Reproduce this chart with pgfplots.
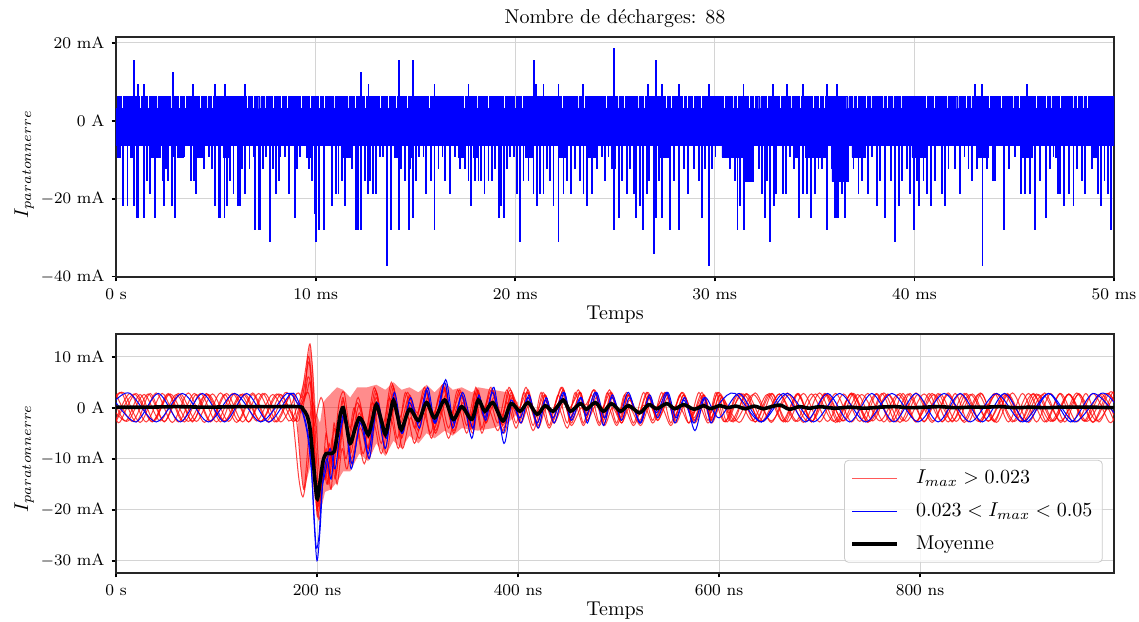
\documentclass[border=0pt]{standalone}
\usepackage{pgfplots}
\pgfplotsset{compat=1.18}
\pgfplotsset{
  myaxis/.style={
    scale only axis,
    grid=major,
    major grid style={draw=black!17, line width=0.5pt},
    tick align=outside, xtick pos=lower, ytick pos=left,
    major tick length=2.2pt,
    tick style={black, line width=0.9pt},
    axis line style={black!85, line width=0.6pt},
    tick label style={font=\fontsize{8.2}{9.5}\selectfont},
    label style={font=\fontsize{10}{12}\selectfont},
    title style={font=\fontsize{10}{12}\selectfont, yshift=-5pt},
    xlabel style={yshift=3.75pt},
  }
}
\begin{document}
\begin{tikzpicture}[x=1pt,y=1pt]
\useasboundingbox (0,0) rectangle (569.5,310.5);
% ================= TOP AXIS =================
\begin{axis}[myaxis,
  at={(58pt,172pt)}, anchor=south west,
  width=499pt, height=120pt,
  xmin=0, xmax=50, ymin=-40.15, ymax=21.54,
  xtick={0,10,20,30,40,50},
  xticklabels={0 s,10 ms,20 ms,30 ms,40 ms,50 ms},
  ytick={-40,-20,0,20},
  yticklabels={$-40$ mA,$-20$ mA,0 A,20 mA},
  xlabel={Temps}, ylabel={$I_{paratonnerre}$},
  ylabel style={at={(axis description cs:-0.092,0.47)}, anchor=center},
  title={Nombre de décharges: 88},
]
% upper edge of the dense band
\addplot[const plot, fill=blue, draw=blue, line width=0.2pt] coordinates {
(0,3.12)(0.07,6.24)(0.27,3.12)(0.37,6.24)(0.83,3.12)(0.93,6.24)(1.17,3.12)(1.27,6.24)
(1.57,3.12)(1.67,6.24)(2.00,3.12)(2.10,6.24)(2.70,3.12)(2.80,6.24)(3.11,3.12)(3.21,6.24)
(3.41,3.12)(3.51,6.24)(4.17,3.12)(4.27,6.24)(4.50,3.12)(4.60,6.24)(4.77,3.12)(4.87,6.24)
(6.54,3.12)(6.64,6.24)(6.84,3.12)(6.94,6.24)(7.15,3.12)(7.25,6.24)(7.41,3.12)(7.51,6.24)
(7.85,3.12)(7.95,6.24)(8.23,3.12)(8.33,6.24)(8.55,3.12)(8.65,6.24)(9.22,3.12)(9.32,6.24)
(9.68,3.12)(9.78,6.24)(10.15,3.12)(10.25,6.24)(10.38,3.12)(10.48,6.24)(10.86,3.12)(10.96,6.24)
(11.57,3.12)(11.67,6.24)(11.94,3.12)(12.04,6.24)(12.44,3.12)(12.54,6.24)(13.21,3.12)(13.31,6.24)
(13.60,3.12)(13.70,6.24)(14.01,3.12)(14.11,6.24)(14.56,3.12)(14.66,6.24)(15.65,3.12)(15.75,6.24)
(17.40,3.12)(17.50,6.24)(18.03,3.12)(18.13,6.24)(18.62,3.12)(18.72,6.24)(19.40,3.12)(19.50,6.24)
(19.95,3.12)(20.05,6.24)(20.31,3.12)(20.41,6.24)(21.37,3.12)(21.47,6.24)(22.30,3.12)(22.40,6.24)
(23.09,3.12)(23.19,6.24)(23.41,3.12)(23.51,6.24)(24.50,3.12)(24.60,6.24)(25.10,3.12)(25.20,6.24)
(25.42,3.12)(25.52,6.24)(26.10,3.12)(26.20,6.24)(26.42,3.12)(26.52,6.24)(27.52,3.12)(27.62,6.24)
(27.76,3.12)(27.86,6.24)(28.36,3.12)(28.46,6.24)(28.59,3.12)(28.69,6.24)(28.86,3.12)(28.96,6.24)
(29.26,3.12)(29.36,6.24)(30.44,3.12)(30.54,6.24)(30.86,3.12)(30.96,6.24)(31.09,3.12)(31.19,6.24)
(31.69,3.12)(31.79,6.24)(31.93,3.12)(32.03,6.24)(32.20,3.12)(32.30,6.24)(32.60,3.12)(32.70,6.24)
(33.23,3.12)(33.33,6.24)(33.53,3.12)(33.63,6.24)(33.76,3.12)(33.86,6.24)(34.23,3.12)(34.33,6.24)
(34.87,3.12)(34.97,6.24)(35.20,3.12)(35.30,6.24)(35.43,3.12)(35.53,6.24)(36.61,3.12)(36.71,6.24)
(36.87,3.12)(36.97,6.24)(37.10,3.12)(37.20,6.24)(37.54,3.12)(37.64,6.24)(37.77,3.12)(37.87,6.24)
(38.37,3.12)(38.47,6.24)(38.61,3.12)(38.71,6.24)(38.87,3.12)(38.97,6.24)(39.27,3.12)(39.37,6.24)
(40.54,3.12)(40.64,6.24)(40.94,3.12)(41.04,6.24)(41.58,3.12)(41.68,6.24)(42.12,3.12)(42.22,6.24)
(42.55,3.12)(42.65,6.24)(42.78,3.12)(42.88,6.24)(43.70,3.12)(43.80,6.24)(44.30,3.12)(44.40,6.24)
(44.88,3.12)(44.98,6.24)(45.20,3.12)(45.30,6.24)(46.05,3.12)(46.15,6.24)(46.55,3.12)(46.65,6.24)
(46.79,3.12)(46.89,6.24)(47.26,3.12)(47.36,6.24)(47.89,3.12)(47.99,6.24)(48.12,3.12)(48.22,6.24)
(48.39,3.12)(48.49,6.24)(48.62,3.12)(48.72,6.24)(50,6.24)} \closedcycle;
% lower edge of the dense band
\addplot[const plot, fill=blue, draw=blue, line width=0.2pt] coordinates {
(0,-6.24)(0.05,-9.36)(0.22,-6.24)(0.72,-9.36)(0.83,-6.24)(1.77,-9.36)(2.22,-6.24)(3.06,-9.36)
(3.39,-6.24)(4.06,-9.36)(4.31,-6.24)(5.39,-9.36)(5.64,-6.24)(9.52,-9.36)(9.82,-6.24)(11.40,-9.36)
(11.82,-6.24)(13.96,-9.36)(14.16,-6.24)(14.66,-9.36)(14.91,-6.24)(17.16,-9.36)(17.50,-6.24)
(17.91,-9.36)(18.16,-6.24)(20.50,-9.36)(20.83,-6.24)(22.17,-9.36)(22.50,-6.24)(23.67,-9.36)
(24.01,-6.24)(27.19,-9.36)(27.77,-6.24)(30.36,-9.36)(31.44,-15.6)(31.94,-6.24)(33.95,-9.36)
(34.20,-6.24)(34.53,-9.36)(35.53,-6.24)(35.87,-15.6)(36.70,-6.24)(36.87,-9.36)(37.54,-6.24)
(39.87,-9.36)(40.54,-6.24)(43.21,-9.36)(43.71,-6.24)(45.38,-9.36)(45.88,-6.24)(47.05,-9.36)
(47.30,-6.24)(48.89,-9.36)(49.22,-6.24)(50,-6.24)} \closedcycle;
% individual spikes
\addplot[ycomb, blue, line width=0.9pt] coordinates {
(0.35,-21.84)(0.58,-21.84)(0.90,-21.84)(1.05,-24.96)(1.12,-24.96)(1.40,-24.96)(1.54,-15.6)
(1.72,-18.72)(1.84,-9.36)(1.94,-24.96)(2.14,-9.36)(2.35,-15.6)(2.42,-21.84)(2.50,-12.48)
(2.59,-15.6)(2.80,-21.84)(2.90,-9.36)(2.97,-24.96)(3.22,-9.36)(3.39,-9.36)(3.77,-15.6)
(3.89,-15.6)(4.02,-18.72)(4.22,-9.36)(4.39,-12.48)(4.64,-9.36)(4.81,-12.48)(4.97,-21.84)
(5.18,-24.96)(5.24,-24.96)(5.44,-24.96)(5.56,-21.84)(5.73,-15.6)(5.89,-18.72)(6.11,-21.84)
(6.23,-21.84)(6.31,-12.48)(6.48,-18.72)(6.69,-12.48)(6.89,-9.36)(6.98,-28.08)(7.15,-28.08)
(7.23,-28.08)(7.35,-12.48)(7.51,-9.36)(7.73,-31.2)(7.86,-12.48)(8.03,-18.72)(8.15,-15.6)
(8.23,-9.36)(8.48,-9.36)(8.65,-18.72)(8.95,-24.96)(9.07,-12.48)(9.23,-9.36)(9.57,-9.36)
(9.65,-12.48)(9.82,-15.6)(9.95,-24.0)(10.02,-31.2)(10.18,-28.08)(10.42,-28.08)(10.82,-21.84)
(11.02,-18.72)(11.15,-18.72)(11.32,-15.6)(11.49,-21.84)(11.65,-9.36)(11.82,-12.48)
(12.04,-28.08)(12.12,-28.08)(12.29,-28.08)(12.49,-15.6)(12.62,-18.72)(12.74,-15.6)
(12.87,-18.72)(13.04,-18.72)(13.21,-9.36)(13.36,-9.36)(13.56,-37.44)(13.76,-28.08)
(13.96,-9.36)(14.19,-28.08)(14.29,-12.48)(14.49,-15.6)(14.66,-28.08)(14.74,-12.48)
(14.87,-24.96)(15.04,-15.6)(15.19,-9.36)(15.41,-9.36)(15.53,-18.72)(15.78,-15.6)
(15.96,-28.08)(16.16,-12.48)(16.36,-9.36)(16.49,-15.6)(16.74,-18.72)(17.00,-9.36)
(17.25,-12.48)(17.50,-12.48)(17.66,-15.6)(17.80,-21.84)(18.00,-15.6)(18.16,-15.6)
(18.30,-15.6)(18.46,-18.72)(18.66,-15.6)(18.83,-15.6)(19.00,-12.48)(19.17,-24.96)
(19.28,-21.84)(19.42,-24.96)(19.58,-12.48)(19.72,-9.36)(19.92,-9.36)(20.08,-18.72)
(20.25,-31.2)(20.42,-15.6)(20.67,-15.6)(20.92,-18.72)(21.09,-21.84)(21.25,-18.72)
(21.42,-18.72)(21.59,-12.48)(21.75,-15.6)(21.92,-21.84)(22.17,-31.2)(22.42,-18.72)
(22.59,-15.6)(22.80,-18.72)(23.01,-12.48)(23.26,-15.6)(23.42,-18.72)(23.59,-21.84)
(23.84,-18.72)(24.09,-12.48)(24.34,-9.36)(24.51,-15.6)(24.67,-9.36)(24.84,-12.48)
(24.93,-28.08)(25.02,-12.48)(25.22,-24.96)(25.35,-15.6)(25.60,-18.72)(25.77,-12.48)
(25.94,-18.72)(26.07,-24.96)(26.24,-21.84)(26.39,-28.08)(26.60,-18.72)(26.69,-15.6)
(26.94,-34.32)(27.07,-24.96)(27.19,-15.6)(27.35,-24.96)(27.60,-9.36)(27.77,-28.08)
(27.94,-15.6)(28.19,-28.08)(28.44,-12.48)(28.66,-18.72)(28.94,-12.48)(29.22,-15.6)
(29.36,-24.96)(29.52,-12.48)(29.72,-37.44)(29.86,-12.48)(30.03,-9.36)(30.44,-9.36)
(30.78,-12.48)(31.03,-15.6)(31.14,-28.08)(31.28,-21.84)(31.46,-28.08)(31.61,-15.6)
(31.78,-15.6)(32.20,-12.48)(32.36,-18.72)(32.53,-24.96)(32.63,-15.6)(32.78,-31.2)
(32.95,-21.84)(33.06,-18.72)(33.40,-18.72)(33.56,-18.72)(33.78,-9.36)(33.95,-12.48)
(34.23,-24.96)(34.40,-18.72)(34.62,-18.72)(34.83,-24.96)(35.03,-18.72)(35.20,-12.48)
(35.37,-12.48)(35.63,-28.08)(35.87,-12.48)(36.04,-24.96)(36.12,-24.96)(36.20,-24.96)
(36.37,-18.72)(36.54,-24.96)(36.70,-15.6)(36.95,-12.48)(37.20,-18.72)(37.37,-15.6)
(37.67,-18.72)(37.87,-9.36)(38.12,-21.84)(38.29,-15.6)(38.54,-24.96)(38.84,-15.6)
(39.04,-31.2)(39.21,-21.84)(39.37,-15.6)(39.62,-12.48)(39.79,-18.72)(39.96,-28.08)
(40.13,-15.6)(40.24,-21.84)(40.46,-15.6)(40.63,-18.72)(40.84,-21.84)(41.04,-15.6)
(41.38,-18.72)(41.54,-21.84)(41.71,-12.48)(42.05,-12.48)(42.30,-18.72)(42.51,-9.36)
(42.71,-12.48)(42.88,-15.6)(43.13,-12.48)(43.41,-37.44)(43.63,-12.48)(43.92,-15.6)
(44.05,-15.6)(44.47,-28.08)(44.72,-12.48)(45.05,-9.36)(45.35,-18.72)(45.55,-18.72)
(45.80,-18.72)(46.05,-28.08)(46.30,-15.6)(46.59,-24.96)(46.80,-12.48)(46.97,-9.36)
(47.19,-18.72)(47.30,-18.72)(47.50,-21.84)(47.75,-18.72)(47.97,-21.84)(48.14,-12.48)
(48.39,-15.6)(48.56,-18.72)(48.89,-12.48)(49.19,-18.72)(49.36,-21.84)(49.52,-15.6)
(49.68,-18.72)(49.86,-28.08)
(0.90,15.6)(1.10,9.36)(1.39,9.36)(2.84,12.48)(3.86,9.36)(4.97,9.36)(5.48,9.36)(6.48,9.36)
(12.29,12.48)(12.65,9.36)(14.19,15.6)(14.87,15.6)(15.96,9.36)(17.66,9.36)(20.93,15.6)
(21.03,9.36)(21.42,9.36)(22.17,9.36)(23.39,9.36)(24.96,18.72)(26.64,9.36)(27.07,15.6)
(27.35,9.36)(28.19,9.36)(29.69,9.36)(31.44,9.36)(32.91,9.36)(33.60,9.36)(34.42,9.36)
(35.62,9.36)(36.12,9.36)(43.05,9.36)(43.40,9.36)(45.63,9.36)};
\end{axis}
% ================= BOTTOM AXIS =================
\begin{axis}[myaxis,
  at={(58pt,24pt)}, anchor=south west,
  width=499pt, height=119.5pt,
  xmin=0, xmax=993, ymin=-32.41, ymax=14.45,
  xtick={0,200,400,600,800},
  xticklabels={0 s,200 ns,400 ns,600 ns,800 ns},
  ytick={-30,-20,-10,0,10},
  yticklabels={$-30$ mA,$-20$ mA,$-10$ mA,0 A,10 mA},
  xlabel={Temps}, ylabel={$I_{paratonnerre}$},
  ylabel style={at={(axis description cs:-0.092,0.48)}, anchor=center},
  legend style={at={(0.9887,0.043)}, anchor=south east, draw=black!20,
    rounded corners=2pt, fill=white, fill opacity=0.8, text opacity=1,
    font=\fontsize{10}{12}\selectfont, inner xsep=3pt, inner ysep=3pt, row sep=4pt},
  legend cell align=left,
  legend image code/.code={\draw[#1] (0pt,0pt) -- (22.5pt,0pt); \path (29pt,0pt);},
]
\addlegendimage{red!65, line width=0.6pt}
\addlegendentry{$I_{max} > 0.023$}
\addlegendimage{blue, line width=0.6pt}
\addlegendentry{$0.023 < I_{max} < 0.05$}
\addlegendimage{black, line width=1.8pt}
\addlegendentry{Moyenne}
% dense red region of the transient
\addplot[forget plot, fill=red, fill opacity=0.45, draw=none] coordinates {
(181,-4)(183,2.5)(188,6)(193,12.5)(196,8)(199,-1)(203,-3)(206,1)(210,2)(215,3)(220,4)
(226,3.5)(233,2)(240,4)(250,4)(259,4.5)(268,3.5)(276,5)(284,3.5)(292,4)(301,3)(309,4.5)
(317,3)(327,5)(335,3.5)(344,4)(354,3)(360,4)(375,3.5)(390,3)(400,1)
(400,-1)(390,-3)(375,-4)(360,-4.5)(344,-4)(335,-5.5)(327,-4.5)(317,-6)(309,-5)(301,-7)
(292,-5.5)(284,-8)(276,-6.5)(268,-9.5)(259,-7)(251,-10.5)(242,-9)(233,-12.5)(226,-12.5)
(220,-14.5)(214,-16)(208,-16.5)(204,-20)(200,-21)(197,-17)(194,-11)(190,-14)(187,-16.5)
(184,-12)(181,-4)} \closedcycle;
% red traces
\addplot[forget plot, red, opacity=0.75, line width=0.5pt, smooth] coordinates {
(0,2.7)(16,-2.7)(32,2.7)(48,-2.7)(64,2.7)(80,-2.7)(96,2.7)(112,-2.7)(128,2.7)(144,-2.7)
(160,2.7)(176,-2.7)(182,0)(186,2)(190,3)(193,5)(196,-2)(200,-20)(204,-12)(208,-14)(212,-7)
(216,-12)(221,-5)(226,2)(233,-9)(242,-1)(251,-8)(259,2)(268,-8)(276,3)(284,-6)(292,1)
(301,-4.5)(309,3)(317,-4)(327,3.5)(335,-4)(344,2)(354,-4)(360,3)(367,-2.5)(375,3)
(385,-4.5)(393,2.5)(402,-2.5)(410,3)(419,-3)(427,2.5)(435,-2.5)(445,3.5)(452,-2.5)(462,3)
(468,-2)(477,3)(485,-2.5)(493,2.5)(502,-2.5)(510,2.5)(521,-3)(530,2.5)(538,-2)(548,2.5)
(556,-2)(565,2.5)(575,-2.5)(585,2.5)(592,-2.5)(601,2.5)(612,-2.7)(628,2.7)(644,-2.7)
(660,2.7)(676,-2.7)(692,2.7)(708,-2.7)(724,2.7)(740,-2.7)(756,2.7)(772,-2.7)(788,2.7)
(804,-2.7)(820,2.7)(836,-2.7)(852,2.7)(868,-2.7)(884,2.7)(900,-2.7)(916,2.7)(932,-2.7)
(948,2.7)(964,-2.7)(980,2.7)(993,-1.5)};
\addplot[forget plot, red, opacity=0.75, line width=0.5pt, smooth] coordinates {
(0,-2.0)(4,-2.8)(20,2.8)(36,-2.8)(52,2.8)(68,-2.8)(84,2.8)(100,-2.8)(116,2.8)(132,-2.8)
(148,2.8)(164,-2.8)(180,2.8)(185,2)(189,6)(192,9)(195,3)(199,-15)(203,-18)(207,-10)
(211,-15)(215,-6)(219,-13)(224,-4)(229,-10)(237,0)(246,-9)(255,1)(264,-7)(272,2)(280,-6)
(288,3)(297,-4)(305,2)(313,-5)(322,2.5)(331,-4)(340,3.5)(349,-3.5)(357,3)(364,-4)(371,2)
(380,-3)(389,3.5)(398,-3)(406,3)(415,-3.5)(423,3)(431,-3.5)(440,2.5)(449,-3)(457,3)
(465,-3)(473,2.5)(481,-3)(489,3)(498,-3)(506,2.5)(515,-3)(525,3)(534,-2.5)(543,3)(552,-3)
(561,2.5)(570,-3)(580,3)(589,-2.5)(597,3)(606,-2.8)(620,2.8)(636,-2.8)(652,2.8)(668,-2.8)
(684,2.8)(700,-2.8)(716,2.8)(732,-2.8)(748,2.8)(764,-2.8)(780,2.8)(796,-2.8)(812,2.8)
(828,-2.8)(844,2.8)(860,-2.8)(876,2.8)(892,-2.8)(908,2.8)(924,-2.8)(940,2.8)(956,-2.8)
(972,2.8)(988,-2.8)(993,-2)};
\addplot[forget plot, red, opacity=0.75, line width=0.5pt, smooth] coordinates {
(0,2.0)(8,2.9)(24,-2.9)(40,2.9)(56,-2.9)(72,2.9)(88,-2.9)(104,2.9)(120,-2.9)(136,2.9)
(152,-2.9)(168,2.9)(174,1)(178,-6)(182,-14)(186,-17.5)(190,-13)(194,-6)(198,-3)(201,0)
(204,2)(207,0)(210,-6)(214,-10)(218,-6)(222,1)(227,3)(233,-4)(241,2)(250,-5)(258,3.5)
(267,-4)(275,4.5)(283,-3)(291,2)(300,-1)(308,3.5)(316,-1)(326,4)(334,-1)(343,3)(353,-1.5)
(359,3.5)(366,0)(374,3.5)(384,-1.5)(392,3.5)(401,0)(409,3)(418,-1)(426,2.5)(434,-0.5)
(444,4)(451,0)(461,3)(467,0.5)(476,3.5)(484,0)(492,3)(501,-0.5)(509,2.5)(520,-1)(529,3)
(537,0)(547,3)(555,0)(564,3)(574,-1)(584,2.5)(592,-1)(600,3)(620,-2.9)(636,2.9)(652,-2.9)
(668,2.9)(684,-2.9)(700,2.9)(716,-2.9)(732,2.9)(748,-2.9)(764,2.9)(780,-2.9)(796,2.9)
(812,-2.9)(828,2.9)(844,-2.9)(860,2.9)(876,-2.9)(892,2.9)(908,-2.9)(924,2.9)(940,-2.9)
(956,2.9)(972,-2.9)(988,2.9)(993,2.5)};
\addplot[forget plot, red, opacity=0.75, line width=0.5pt, smooth] coordinates {
(0,-1.0)(12,-2.6)(28,2.6)(44,-2.6)(60,2.6)(76,-2.6)(92,2.6)(108,-2.6)(124,2.6)(140,-2.6)
(156,2.6)(172,-2.6)(180,0)(185,3)(189,8)(193,12.5)(196,6)(199,-8)(202,-17)(206,-11)
(210,-15)(214,-8)(218,-14)(223,-7)(228,-1)(234,-11)(243,-4)(252,-10)(260,-1)(269,-9)
(277,0)(285,-8)(293,-2)(302,-6)(310,0)(318,-5)(328,1)(336,-5)(345,0)(355,-5)(361,1)
(368,-3)(376,0.5)(386,-5)(394,0)(403,-3)(411,0.5)(420,-4)(428,0)(436,-3)(446,1)(453,-3.5)
(463,0)(469,-2.5)(478,0.5)(486,-3.5)(494,0)(503,-3)(511,0)(522,-3.5)(531,0.5)(539,-2.5)
(549,1)(557,-3)(566,0.5)(576,-3)(586,1)(593,-3)(603,1.5)(610,-1)(618,2.6)(633,-2.6)
(648,2.6)(663,-2.6)(678,2.6)(693,-2.6)(708,2.6)(723,-2.6)(738,2.6)(753,-2.6)(768,2.6)
(783,-2.6)(798,2.6)(813,-2.6)(828,2.6)(843,-2.6)(858,2.6)(873,-2.6)(888,2.6)(903,-2.6)
(918,2.6)(933,-2.6)(948,2.6)(963,-2.6)(978,2.6)(993,-2.6)};
\addplot[forget plot, red, opacity=0.75, line width=0.5pt, smooth] coordinates {
(0,2.2)(6,2.8)(20,-2.8)(34,2.8)(48,-2.8)(62,2.8)(76,-2.8)(90,2.8)(104,-2.8)(118,2.8)
(132,-2.8)(146,2.8)(160,-2.8)(174,2.8)(180,1)(184,-1)(188,2)(191,6)(194,4)(197,-6)(201,-19)
(205,-15)(209,-8)(213,-13)(217,-4)(221,-9)(226,0)(232,-6)(240,1)(249,-4)(257,4)(266,-3)
(274,5)(282,-2)(290,3)(299,-1.5)(307,4)(315,-2)(325,4.5)(333,-2.5)(342,3.5)(352,-3)(358,4)
(365,-1.5)(373,4)(383,-3)(391,4)(400,-1)(408,4)(417,-2)(425,3)(433,-1.5)(443,4)(450,-1)
(460,3.5)(466,-1)(475,3.5)(483,-1)(491,3.5)(500,-1.5)(508,3)(519,-1.5)(528,3)(536,-1)
(546,3)(554,-1)(563,3)(573,-1.5)(583,3)(590,-1.5)(599,3)(608,-2.8)(622,2.8)(636,-2.8)
(650,2.8)(664,-2.8)(678,2.8)(692,-2.8)(706,2.8)(720,-2.8)(734,2.8)(748,-2.8)(762,2.8)
(776,-2.8)(790,2.8)(804,-2.8)(818,2.8)(832,-2.8)(846,2.8)(860,-2.8)(874,2.8)(888,-2.8)
(902,2.8)(916,-2.8)(930,2.8)(944,-2.8)(958,2.8)(972,-2.8)(986,2.8)(993,1)};
\addplot[forget plot, red, opacity=0.75, line width=0.5pt, smooth] coordinates {
(0,-2.7)(18,2.7)(36,-2.7)(54,2.7)(72,-2.7)(90,2.7)(108,-2.7)(126,2.7)(144,-2.7)(162,2.7)
(180,-2.7)(184,0)(188,3)(191,10)(194,7)(197,-4)(200,-21)(204,-17)(208,-9)(212,-14)(216,-9)
(220,-15)(225,-8)(230,-12)(238,-3)(247,-11)(256,-3)(264,-9)(273,-2)(281,-8)(289,-1)(297,-7)
(306,-1)(314,-6)(322,0)(331,-6)(340,0.5)(349,-5)(357,1)(364,-5)(371,-0.5)(380,-4.5)(389,1)
(398,-4)(406,0.5)(415,-4.5)(423,0)(431,-4)(440,0)(449,-4)(457,0.5)(465,-3.5)(473,0)
(481,-3.5)(489,0.5)(498,-3.5)(506,0)(515,-3.5)(525,0.5)(534,-3)(543,0)(552,-3.5)(561,0)
(570,-3)(580,0.5)(589,-3)(598,0)(606,-2.7)(624,2.7)(642,-2.7)(660,2.7)(678,-2.7)(696,2.7)
(714,-2.7)(732,2.7)(750,-2.7)(768,2.7)(786,-2.7)(804,2.7)(822,-2.7)(840,2.7)(858,-2.7)
(876,2.7)(894,-2.7)(912,2.7)(930,-2.7)(948,2.7)(966,-2.7)(984,2.7)(993,1.5)};
\addplot[forget plot, red, opacity=0.75, line width=0.5pt, smooth] coordinates {
(0,-2.4)(14,2.8)(30,-2.8)(46,2.8)(62,-2.8)(78,2.8)(94,-2.8)(110,2.8)(126,-2.8)(142,2.8)
(158,-2.8)(174,2.8)(178,0)(181,-5)(184,-12)(187,-16)(190,-10)(193,-2)(196,1)(199,-3)
(202,-12)(205,-15)(209,-5)(213,-11)(217,-3)(221,-8)(226,1.5)(233,-6.5)(242,0.5)(251,-6)
(259,3)(268,-6)(276,4)(284,-5)(292,2.5)(301,-3)(309,3.5)(317,-3)(327,4)(335,-3.5)(344,2.5)
(354,-3.5)(360,3.5)(367,-2)(375,3.5)(385,-3.5)(393,3)(402,-2)(410,3.5)(419,-3)(427,2.5)
(435,-2)(445,3.5)(452,-2)(462,3)(468,-1.5)(477,3)(485,-2)(493,3)(502,-2)(510,2.5)(521,-2.5)
(530,2.5)(538,-1.5)(548,3)(556,-1.5)(565,2.5)(575,-2)(585,2.5)(592,-2)(601,2.5)(614,-2.8)
(627,2.8)(640,-2.8)(653,2.8)(666,-2.8)(679,2.8)(692,-2.8)(705,2.8)(718,-2.8)(731,2.8)
(744,-2.8)(757,2.8)(770,-2.8)(783,2.8)(796,-2.8)(809,2.8)(822,-2.8)(835,2.8)(848,-2.8)
(861,2.8)(874,-2.8)(887,2.8)(900,-2.8)(913,2.8)(926,-2.8)(939,2.8)(952,-2.8)(965,2.8)
(978,-2.8)(991,2.8)(993,2.7)};
\addplot[forget plot, red, opacity=0.75, line width=0.5pt, smooth] coordinates {
(0,0.5)(10,-2.6)(24,2.6)(38,-2.6)(52,2.6)(66,-2.6)(80,2.6)(94,-2.6)(108,2.6)(122,-2.6)
(136,2.6)(150,-2.6)(164,2.6)(178,-2.6)(183,0)(187,1.5)(191,3)(194,0)(198,-13)(202,-22)
(206,-14)(210,-11)(214,-16)(218,-7)(222,-10)(227,-2)(234,-10)(243,-3)(252,-8)(260,0)
(269,-6)(277,2)(285,-5)(293,0.5)(302,-4)(310,2)(318,-4.5)(328,2.5)(336,-4.5)(345,1)
(355,-4)(361,2.5)(368,-3)(376,2)(386,-4)(394,2)(403,-3)(411,2)(420,-3.5)(428,1.5)(436,-3)
(446,2.5)(453,-3)(463,2)(469,-2.5)(478,2)(486,-3)(494,2)(503,-3)(511,1.5)(522,-3)(531,2)
(539,-2.5)(549,2)(557,-2.5)(566,2)(576,-2.5)(586,2)(593,-2.5)(603,2)(616,-2.6)(634,2.6)
(652,-2.6)(670,2.6)(688,-2.6)(706,2.6)(724,-2.6)(742,2.6)(760,-2.6)(778,2.6)(796,-2.6)
(814,2.6)(832,-2.6)(850,2.6)(868,-2.6)(886,2.6)(904,-2.6)(922,2.6)(940,-2.6)(958,2.6)
(976,-2.6)(993,2.4)};
% blue traces
\addplot[forget plot, blue, line width=0.5pt, smooth] coordinates {
(0,1.5)(14,2.8)(40,-2.8)(66,2.8)(92,-2.8)(118,2.8)(144,-2.8)(170,2.8)(180,1)(186,-1)
(190,-4)(194,-10)(197,-22)(200,-30)(203,-24)(206,-14)(210,-10)(214,-14)(218,-7)(223,-4)
(228,-1)(234,-12)(243,-3)(251,-9)(259,0)(268,-8)(276,2)(284,-5)(292,1)(301,-3)(309,3.5)
(317,-3)(327,5)(335,-4)(344,2.5)(354,-6)(360,2)(367,-2)(375,3)(385,-5)(393,1.5)(402,-2)
(410,2)(419,-3)(427,1.5)(435,-2)(445,3)(452,-2)(462,2)(468,-1.5)(477,3)(485,-3.5)(493,2)
(502,-1)(510,3)(521,-3)(530,2)(538,-1)(548,3)(556,-3)(565,1.5)(575,-3)(585,2)(592,-3)
(601,1)(616,2.8)(642,-2.8)(668,2.8)(694,-2.8)(720,2.8)(746,-2.8)(772,2.8)(798,-2.8)
(824,2.8)(850,-2.8)(876,2.8)(902,-2.8)(928,2.8)(954,-2.8)(980,2.8)(993,1)};
\addplot[forget plot, blue, line width=0.5pt, smooth] coordinates {
(0,1)(20,-2.8)(42,2.8)(64,-2.8)(86,2.8)(108,-2.8)(130,2.8)(152,-2.8)(174,2.8)(182,1)
(187,-2)(191,-6)(195,-14)(199,-27)(202,-25)(205,-16)(209,-12)(213,-8)(218,-12)(223,-5)
(228,-2)(235,-11)(244,-2)(252,-10)(260,1)(269,-6)(277,3)(285,-5)(293,2)(302,-4)(310,4)
(318,-3)(328,5.5)(336,-3)(345,3)(355,-4)(361,2.5)(368,-2.5)(376,4)(386,-7)(394,1)(403,-3)
(411,2.5)(420,-4)(428,2)(436,-3)(446,3)(453,-2.5)(463,2)(469,-3)(478,3)(486,-2)(494,2.5)
(503,-2.5)(511,2)(522,-3)(531,2.5)(539,-2)(549,3)(557,-2)(566,2)(576,-4.5)(586,2)(600,-2)
(620,2.8)(642,-2.8)(664,2.8)(686,-2.8)(708,2.8)(730,-2.8)(752,2.8)(774,-2.8)(796,2.8)
(818,-2.8)(840,2.8)(862,-2.8)(884,2.8)(906,-2.8)(928,2.8)(950,-2.8)(972,2.8)(993,-1)};
% mean
\addplot[forget plot, black, line width=1.8pt, smooth] coordinates {
(0,0.1)(30,0.1)(60,0.2)(90,0.1)(120,0.2)(150,0.2)(182,0.2)(186,-0.3)(190,-1.5)(193,-4)
(196,-10)(200,-17.8)(203,-14.5)(206,-10.5)(209,-9)(213,-9)(217,-8.6)(220,-5.5)(223,-1.5)
(226,0)(229,-3)(233,-7)(238,-4)(242,-2)(246,-3)(251,-5.3)(255,-2.5)(259,0.6)(264,-2.5)
(268,-5.2)(272,-2)(276,1.4)(280,-1.5)(284,-4.3)(292,-0.3)(301,-2.5)(309,1)(317,-2)
(327,1.5)(335.5,-2.3)(344,0.2)(354,-2.3)(360.5,1.5)(367,-0.7)(375,1)(385,-2.6)(393,0.8)
(402,-0.7)(410,1)(419,-1.3)(427,0.4)(435,-0.7)(445,1.5)(452,-0.7)(462,0.8)(468,-0.3)
(477,1)(485,-0.7)(493,0.8)(502,-0.7)(510,0.4)(521,-1)(530,0.6)(538,-0.2)(548,0.8)
(556,-0.2)(565,0.6)(575,-0.3)(585,0.4)(591,-0.2)(601,0.4)(608,0)(617,0.3)(626,-0.2)
(635,0.3)(644,-0.2)(652,0.2)(661,0.5)(670,-0.3)(680,0.2)(690,-0.1)(700,0.2)(715,-0.1)
(730,0.1)(745,-0.1)(760,0.1)(775,0.2)(790,0)(805,0.1)(820,0.2)(835,0)(850,0.1)(865,0.1)
(880,0.2)(895,0)(910,0.1)(925,0)(940,0.1)(955,0.1)(970,0.1)(993,0)};
\end{axis}
\end{tikzpicture}
\end{document}
